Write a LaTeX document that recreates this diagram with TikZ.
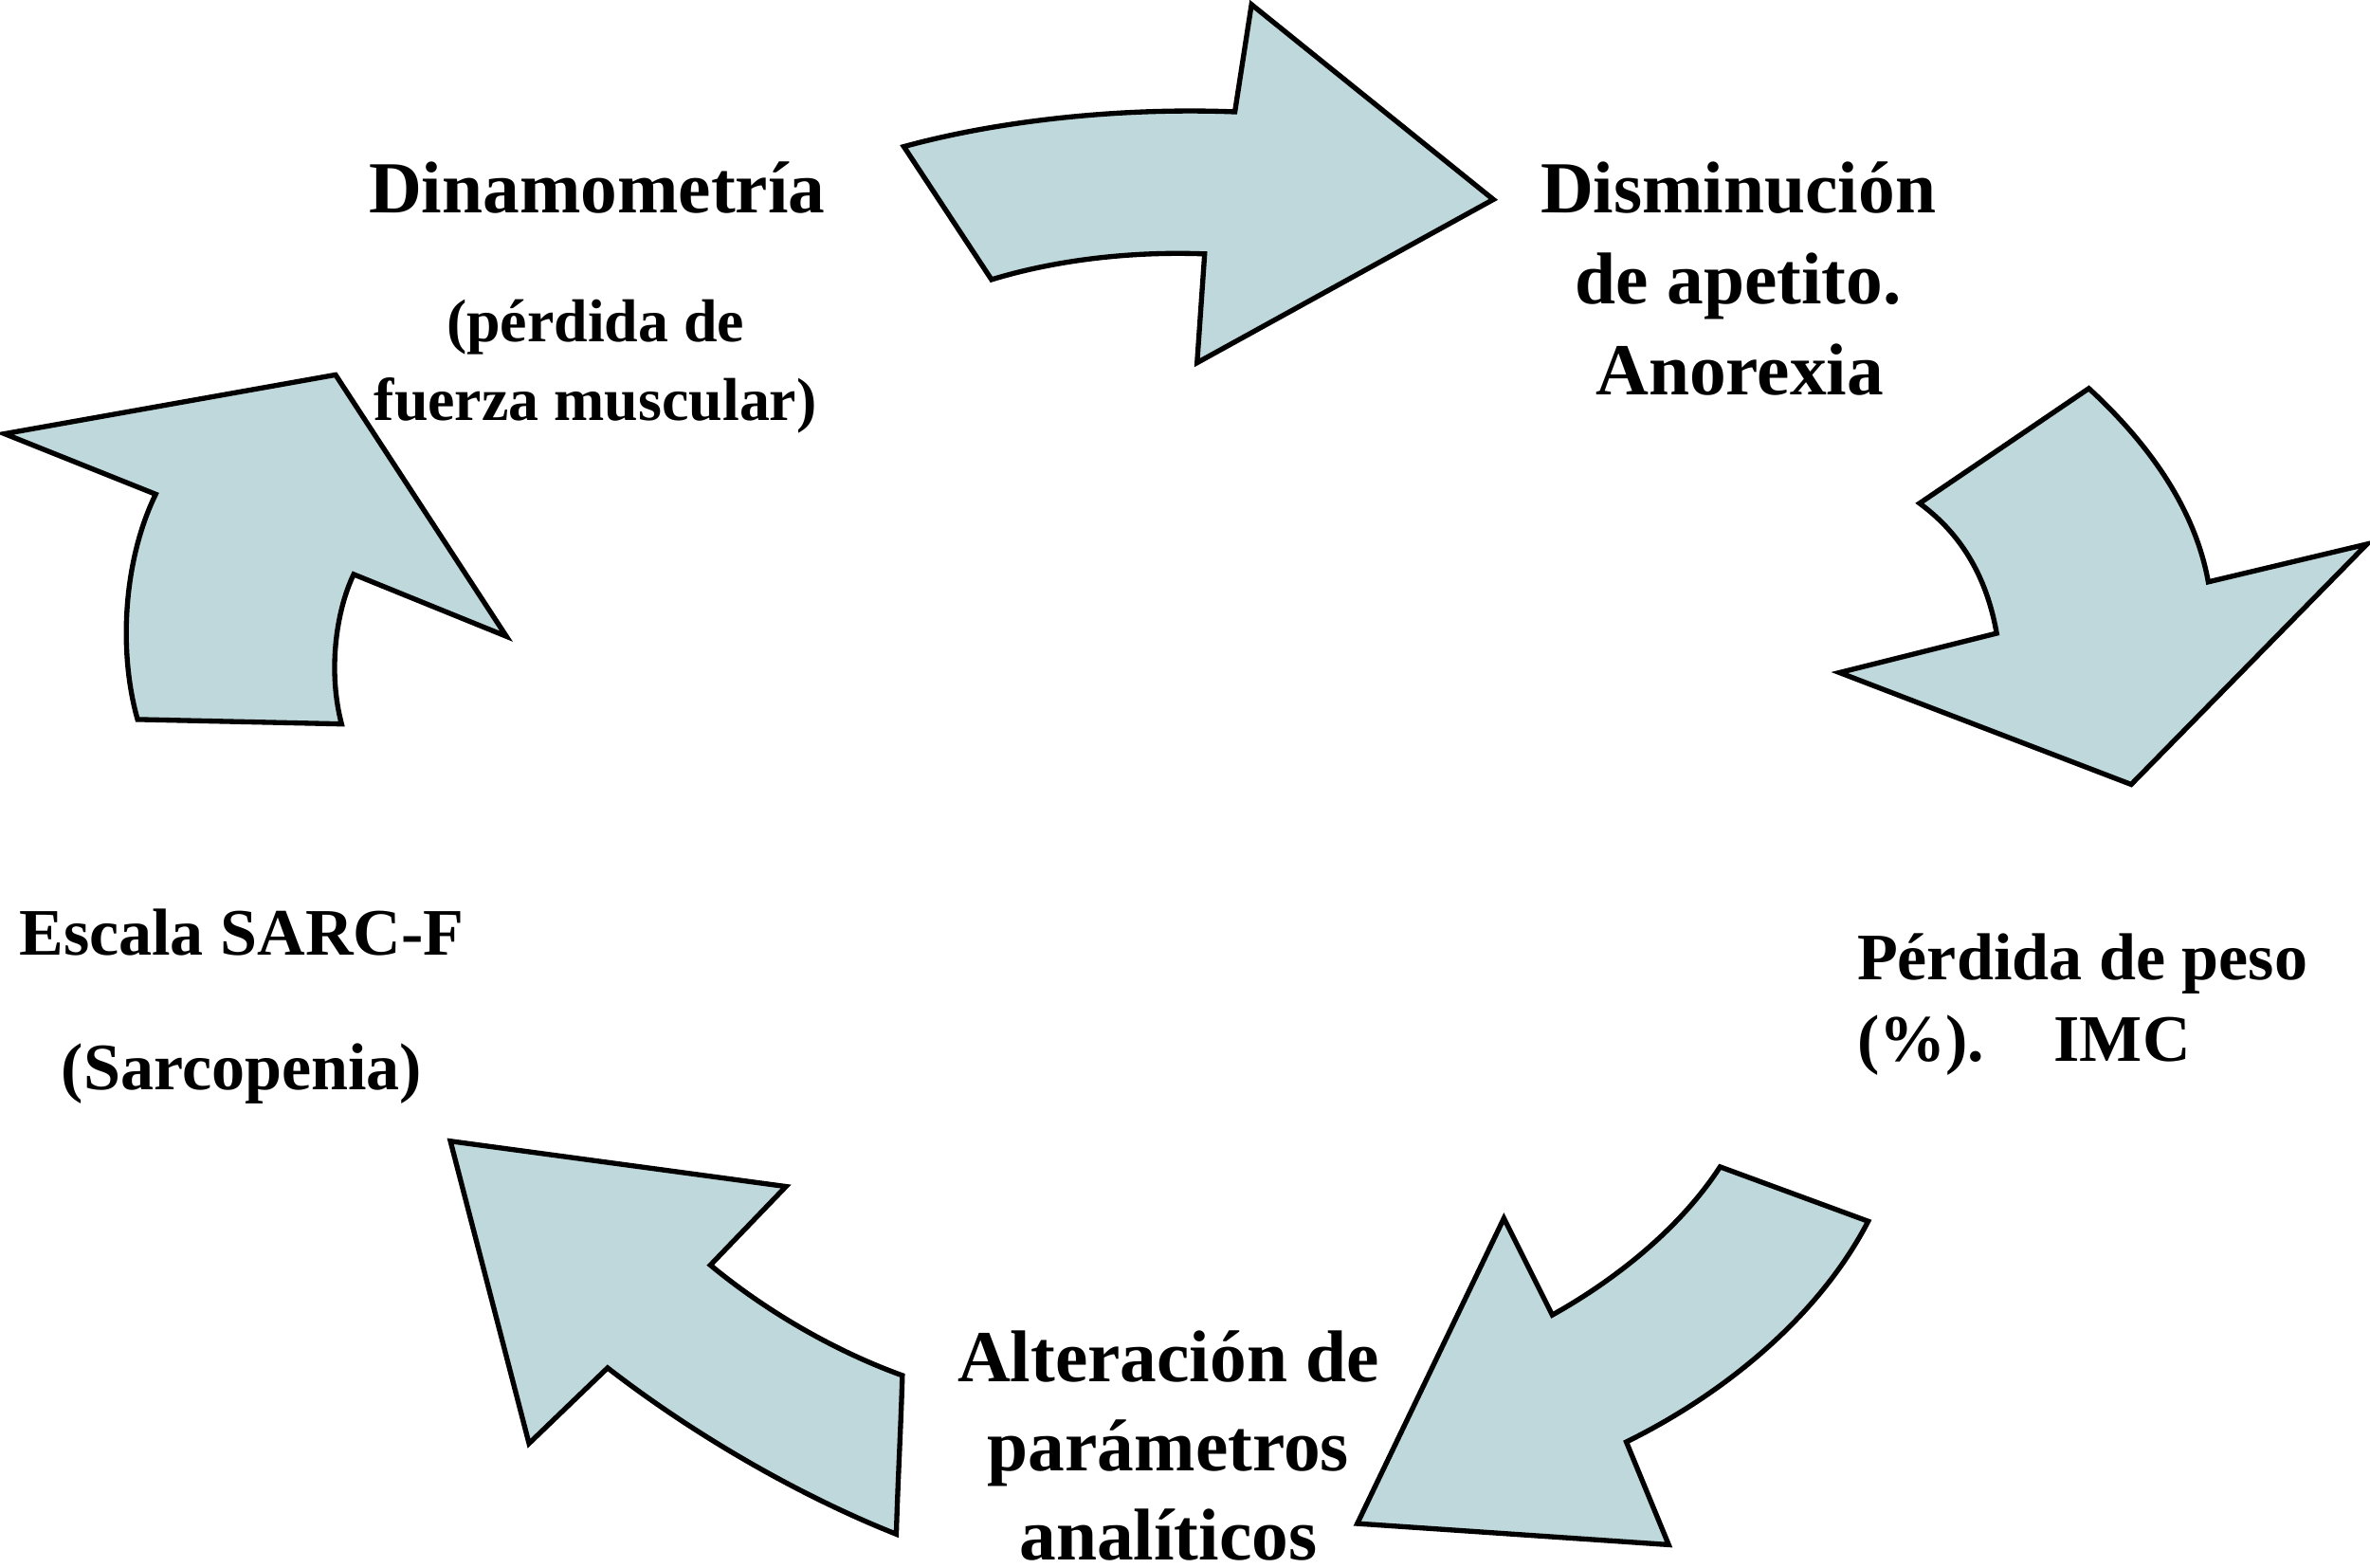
\documentclass[tikz,border=0pt]{standalone}
\usepackage{fontspec}
\setmainfont{Liberation Serif}
\definecolor{arrowfill}{RGB}{190,216,220}
\tikzset{
  bigarrow/.style={fill=arrowfill, draw=black, line width=0.95pt, line join=miter},
  bigtxt/.style={font=\fontsize{13.8pt}{17pt}\selectfont\bfseries, inner sep=0pt, anchor=base},
  midtxt/.style={font=\fontsize{12.5pt}{15.4pt}\selectfont\bfseries, inner sep=0pt, anchor=base},
  smalltxt/.style={font=\fontsize{11.4pt}{14.8pt}\selectfont\bfseries, inner sep=0pt, anchor=base}
}
\begin{document}
\begin{tikzpicture}[x=0.01cm,y=-0.01cm]
\useasboundingbox (0,0) rectangle (1568,1037);
% arrow 1 (top)
\draw[bigarrow] (598,97) .. controls (660,80) and (740,71) .. (817,74) -- (828,3) -- (988,132) -- (792,240) -- (797,168) .. controls (745,166) and (695,173) .. (656,185) -- cycle;
% arrow 2 (right)
\draw[bigarrow] (1270,333) -- (1382,257) .. controls (1420,292) and (1452,335) .. (1461,385) -- (1566,360) -- (1410,519) -- (1217,445) -- (1321,419) .. controls (1315,385) and (1300,355) .. (1270,333) -- cycle;
% arrow 3 (bottom right)
\draw[bigarrow] (1138,772) -- (1236,808) .. controls (1205,868) and (1145,920) .. (1076,954) -- (1104,1022) -- (898,1008) -- (995,806) -- (1027,870) .. controls (1070,846) and (1112,812) .. (1138,772) -- cycle;
% arrow 4 (bottom left)
\draw[bigarrow] (298,755) -- (520,785) -- (470,837) .. controls (505,866) and (550,893) .. (597,910) .. controls (596,945) and (594,980) .. (593,1015) .. controls (530,990) and (460,950) .. (402,905) -- (350,955) -- cycle;
% arrow 5 (left)
\draw[bigarrow] (3,287) -- (222,248) -- (335,421) -- (234,380) .. controls (222,405) and (217,445) .. (226,479) -- (91,476) .. controls (78,430) and (82,370) .. (103,327) -- cycle;

% texts
\node[bigtxt] (dina) at (395,141) {Dinamometría};
\node[smalltxt] (perd1) at (394,226) {(pérdida de};
\node[smalltxt] (perd2) at (394,278) {fuerza muscular)};

\node[bigtxt] (dism1) at (1150,141) {Disminución};
\node[bigtxt] (dism2) at (1150,201) {de apetito.};
\node[bigtxt] (dism3) at (1151,261) {Anorexia};

\node[midtxt, anchor=base west] (peso1) at (1228,648) {Pérdida de peso};
\node[midtxt, anchor=base west] (peso2) at (1228,702) {(\%).\hspace{0.46cm}IMC};

\node[bigtxt] (alt1) at (773,914) {Alteración de};
\node[bigtxt] (alt2) at (773,973) {parámetros};
\node[bigtxt] (alt3) at (773,1032) {analíticos};

\node[midtxt, anchor=base west] (esc1) at (12,632) {Escala SARC-F};
\node[midtxt] (esc2) at (160,721) {(Sarcopenia)};
\end{tikzpicture}
\end{document}
